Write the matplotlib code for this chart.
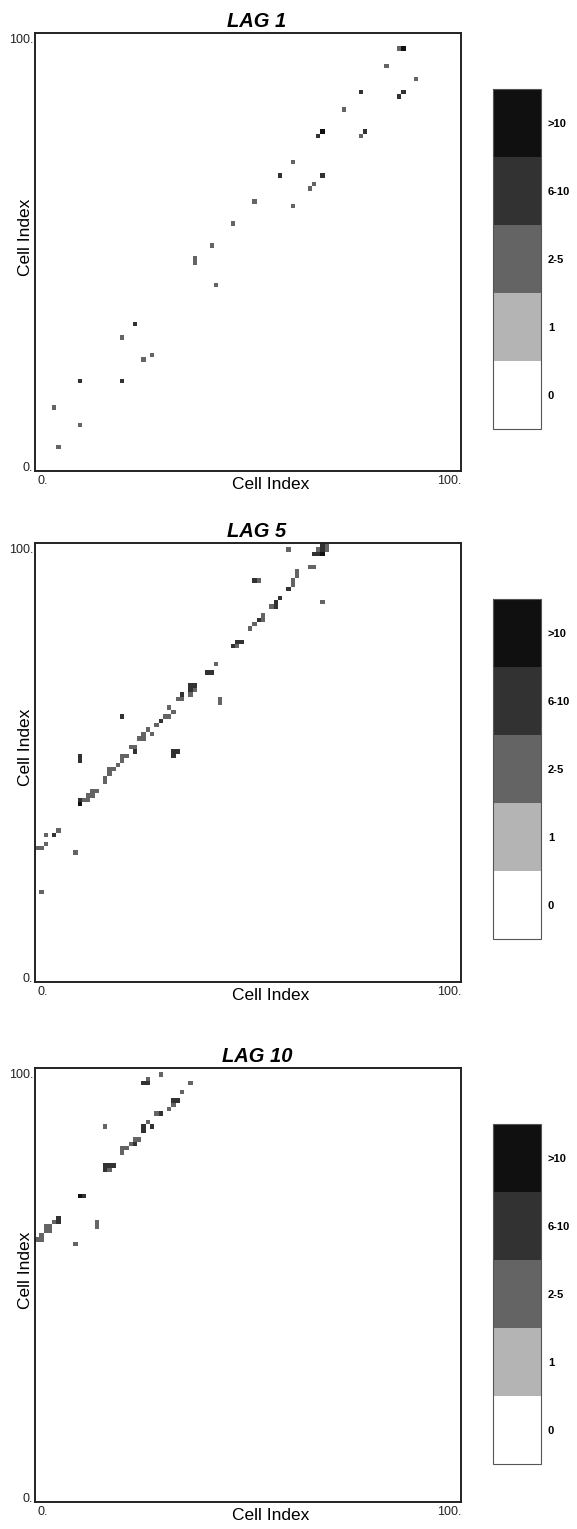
import numpy as np
import matplotlib
matplotlib.use("Agg")
import matplotlib.pyplot as plt
from matplotlib.colors import ListedColormap, BoundaryNorm
from matplotlib.colorbar import ColorbarBase

plt.rcParams["font.family"] = ["Liberation Sans", "DejaVu Sans"]

W, H = 577, 1529
N = 100

# count classes: 0, 1, 2-5, 6-10, >10
level_labels = ["0", "1", "2-5", "6-10", ">10"]
level_colors = ["#ffffff", "#b4b4b4", "#646464", "#323232", "#101010"]

lag_titles = ["LAG 1", "LAG 5", "LAG 10"]

# ---- LAG 1 : (column, row, class) ----
lag1_col = [4, 5, 10, 10, 20, 20, 23, 25, 27, 37, 37, 41, 42, 46, 51, 57, 60, 60,
            64, 65, 67, 66, 67, 72, 76, 76, 77, 82, 85, 86, 85, 86, 89]
lag1_row = [14, 5, 10, 20, 20, 30, 33, 25, 26, 48, 47, 51, 42, 56, 61, 67, 70, 60,
            64, 65, 67, 76, 77, 82, 86, 76, 77, 92, 96, 96, 85, 86, 89]
lag1_level = [2, 2, 2, 3, 3, 2, 3, 2, 2, 2, 2, 2, 2, 2, 2, 3, 2, 2,
              2, 2, 3, 3, 4, 2, 3, 2, 3, 2, 2, 4, 3, 3, 2]

# ---- LAG 5 ----
lag5_col = [59, 67, 68, 66, 67, 68, 65, 66, 67, 64, 65, 67, 51, 52,
            61, 61, 60, 60, 59, 57, 56, 56, 55, 53, 53, 52, 51, 50,
            46, 47, 48, 47, 42, 40, 41, 36, 37, 36, 37, 36, 34, 33, 34,
            43, 43, 31, 32, 31, 30, 29, 28, 26, 27, 25, 24, 25,
            22, 23, 23, 21, 20, 20, 19, 18, 17, 17, 16, 16,
            20, 32, 33, 32, 10, 10,
            10, 10, 11, 12, 12, 13, 13, 14,
            5, 4, 2, 2, 1, 0, 9, 1]
lag5_row = [98, 99, 99, 98, 98, 98, 97, 97, 97, 94, 94, 86, 91, 91,
            93, 92, 91, 90, 89, 87, 86, 85, 85, 83, 82, 82, 81, 80,
            76, 77, 77, 76, 72, 70, 70, 67, 67, 66, 66, 65, 65, 64, 64,
            64, 63, 62, 61, 60, 60, 59, 58, 57, 56, 56, 55, 55,
            53, 53, 52, 51, 51, 50, 49, 48, 48, 47, 46, 45,
            60, 52, 52, 51, 51, 50,
            41, 40, 41, 41, 42, 42, 43, 43,
            34, 33, 33, 31, 30, 30, 29, 20]
lag5_level = [2, 3, 2, 2, 3, 2, 3, 3, 4, 2, 2, 2, 3, 2,
              2, 2, 2, 2, 3, 3, 3, 3, 2, 2, 2, 3, 2, 2,
              3, 3, 3, 2, 2, 3, 3, 3, 3, 3, 2, 2, 3, 2, 2,
              2, 2, 2, 2, 2, 2, 3, 2, 2, 2, 2, 2, 2,
              2, 2, 3, 2, 2, 2, 2, 2, 2, 2, 2, 2,
              3, 3, 3, 3, 3, 3,
              3, 4, 2, 2, 2, 2, 2, 2,
              2, 3, 2, 2, 2, 2, 2, 2]

# ---- LAG 10 ----
lag10_col = [29, 26, 25, 26, 36, 34, 32, 33, 32, 31, 28, 29, 16,
             26, 25, 27, 25, 23, 24, 22, 23, 21, 20, 20,
             16, 17, 18, 16, 17, 10, 11,
             5, 5, 4, 3, 2, 2, 3, 1, 0, 1, 14, 14, 9]
lag10_row = [98, 97, 96, 96, 96, 94, 92, 92, 91, 90, 89, 89, 86,
             87, 86, 86, 85, 83, 83, 82, 82, 81, 81, 80,
             77, 77, 77, 76, 76, 70, 70,
             65, 64, 64, 63, 63, 62, 62, 61, 60, 60, 64, 63, 59]
lag10_level = [2, 2, 3, 3, 2, 2, 3, 3, 2, 2, 2, 3, 2,
               2, 3, 3, 3, 2, 2, 2, 3, 2, 2, 2,
               3, 3, 3, 3, 2, 4, 3,
               3, 3, 2, 2, 2, 2, 2, 2, 2, 2, 2, 2, 2]

lags = [(lag1_col, lag1_row, lag1_level),
        (lag5_col, lag5_row, lag5_level),
        (lag10_col, lag10_row, lag10_level)]

cmap = ListedColormap(level_colors)
norm = BoundaryNorm(np.arange(-0.5, len(level_colors) + 0.5, 1), cmap.N)


def count_matrix(cols, rows, levels):
    m = np.zeros((N, N), dtype=int)
    m[np.asarray(rows), np.asarray(cols)] = np.asarray(levels)
    return m


fig = plt.figure(figsize=(W / 100, H / 100), dpi=100)
fig.patch.set_facecolor("white")


def fx(px):
    return px / W


def fy(py):
    return 1 - py / H


def ptext(px, py, s, **kw):
    fig.text(fx(px), fy(py), s, **kw)


# frame top / bottom of each panel, in pixels from the top edge
frames = [(33, 471), (543, 982), (1068, 1502)]
LEFT, RIGHT = 35, 461

for (top, bot), title, data in zip(frames, lag_titles, lags):
    ax = fig.add_axes([fx(LEFT), fy(bot), (RIGHT - LEFT) / W, (bot - top) / H])
    ax.imshow(count_matrix(*data), cmap=cmap, norm=norm, origin="lower",
              extent=(0, N, 0, N), interpolation="nearest", aspect="auto")
    ax.set_xlim(0, N)
    ax.set_ylim(0, N)
    ax.set_xticks([])
    ax.set_yticks([])
    for sp in ax.spines.values():
        sp.set_linewidth(1.4)
        sp.set_color("#222222")

    # axis end labels
    ptext(LEFT - 2, top + 1, "100.", ha="right", va="top", fontsize=9, color="#222222")
    ptext(LEFT - 2, bot, "0.", ha="right", va="baseline", fontsize=9, color="#222222")
    ptext(LEFT + 2, bot + 4, "0.", ha="left", va="top", fontsize=9, color="#222222")
    ptext(RIGHT, bot + 4, "100.", ha="right", va="top", fontsize=9, color="#222222")

    # axis titles
    ptext(271, bot + 18, "Cell Index", ha="center", va="baseline", fontsize=12.5)
    fig.text(fx(30), fy((top + bot) / 2 - 15), "Cell Index", rotation=90,
             rotation_mode="anchor", ha="center", va="baseline", fontsize=12.5)

    # panel title
    ptext(257, top - 6, title, ha="center", va="baseline", fontsize=14.5,
          fontweight="bold", fontstyle="italic")

    # class legend
    cb_top = top + 56
    cb_h = 340
    cax = fig.add_axes([fx(493), fy(cb_top + cb_h), 48 / W, cb_h / H])
    cb = ColorbarBase(cax, cmap=cmap, norm=norm, ticks=np.arange(len(level_labels)),
                      orientation="vertical")
    cb.set_ticklabels(level_labels)
    cb.ax.minorticks_off()
    cb.ax.tick_params(which="both", length=0, pad=5, labelsize=8)
    for lab in cb.ax.get_yticklabels():
        lab.set_fontweight("bold")
    cb.outline.set_linewidth(0.8)
    cb.outline.set_edgecolor("#555555")

fig.savefig("out.png", dpi=100, facecolor="white")
